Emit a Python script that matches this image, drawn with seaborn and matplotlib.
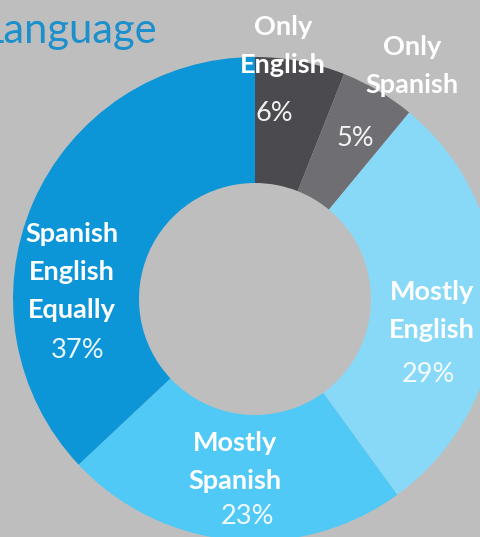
import matplotlib
matplotlib.use("Agg")
import matplotlib.pyplot as plt
import seaborn as sns

# Survey shares by home language, clockwise from 12 o'clock
categories = ["Only\nEnglish", "Only\nSpanish", "Mostly\nEnglish", "Mostly\nSpanish", "Spanish\nEnglish\nEqually"]
shares = [6, 5, 29, 23, 37]
title = "Language"

colors = ["#4b4b4f", "#6f6f73", "#88d9f8", "#50c9f6", "#0c96d7"]
bg = "#bebebe"

sns.set_theme(style="white")
plt.rcParams["font.family"] = ["Lato", "DejaVu Sans"]

W, H = 481, 537
fig = plt.figure(figsize=(W / 100, H / 100), dpi=100, facecolor=bg)
ax = fig.add_axes([0, 0, 1, 1])
ax.set_facecolor(bg)

cx, cy, R = 255, H - 299, 242
ax.pie(shares, colors=colors, startangle=90, counterclock=False,
       center=(cx, cy), radius=R, frame=True,
       wedgeprops=dict(width=R - 116, linewidth=0))
ax.set_xlim(0, W)
ax.set_ylim(0, H)
ax.set_aspect("equal")
ax.axis("off")

# label anchors (pixel coords from top-left): name block, percentage
name_pos = [(283, 46), (412, 66), (432, 311), (235, 462), (72, 272)]
pct_pos = [(274, 113), (355, 138), (428, 374), (248, 516), (78, 350)]

for cat, val, (nx, ny), (px, py) in zip(categories, shares, name_pos, pct_pos):
    ax.text(nx, H - ny, cat, ha="center", va="center", color="white",
            fontsize=19.5, fontweight="bold", linespacing=1.68)
    ax.text(px, H - py, f"{val}%", ha="center", va="center", color="white",
            fontsize=19.5, alpha=0.92)

ax.text(157, H - 31, title, ha="right", va="center", color="#1c8fcd", fontsize=30)

fig.savefig("out.png", dpi=100, facecolor=bg)
